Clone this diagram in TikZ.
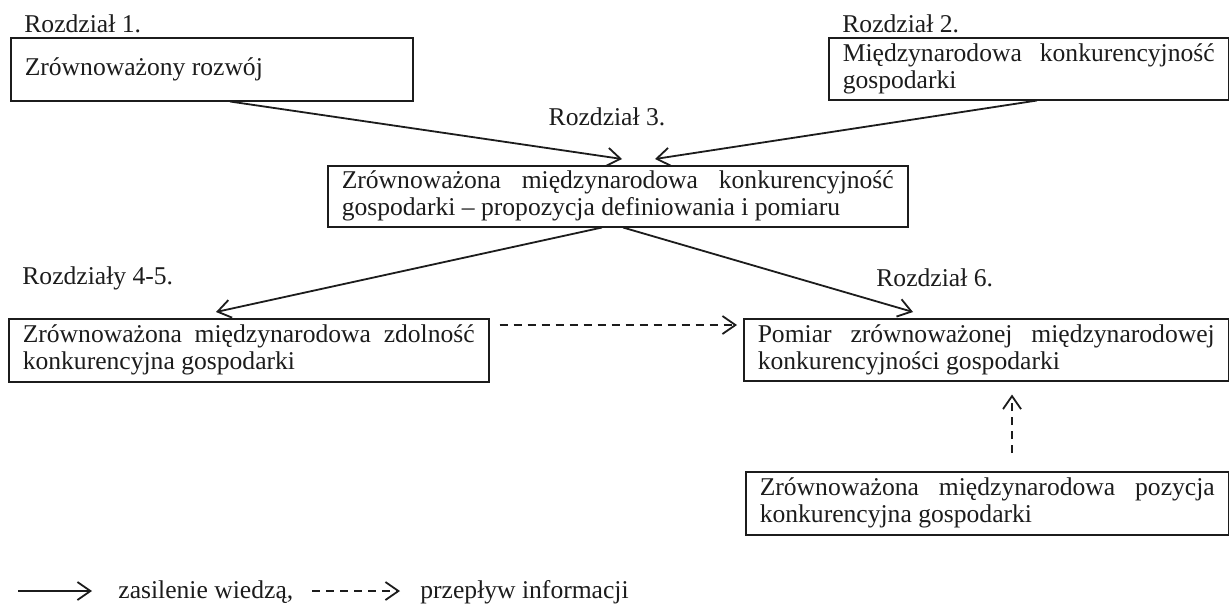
\documentclass[tikz,border=0pt]{standalone}
\usepackage{fontspec}
\setmainfont{Liberation Serif}
\usetikzlibrary{arrows.meta,calc}
\definecolor{ink}{HTML}{1C1C1C}
\begin{document}
\begin{tikzpicture}[x=0.5pt,y=-0.5pt,
  font=\fontsize{12.8}{13.5}\selectfont,
  box/.style={draw=ink,line width=0.75pt,rectangle,anchor=north west,inner xsep=7pt,inner ysep=2pt,align=justify,text=ink},
  lbl/.style={anchor=base west,inner sep=0pt,text=ink},
  kn/.style={draw=ink,line width=0.9pt,-{Straight Barb[length=6.5pt,width=9pt]}},
  inf/.style={kn,dash pattern=on 4pt off 3pt},
]
\useasboundingbox (0,0) rectangle (1229,606);
\fill[white] (0,0) rectangle (1229,606);

\node[box,text width=187pt,minimum height=31.5pt] (b1) at (10,37) {Zrównoważony rozwój};
\node[box,text width=186pt,minimum height=31pt] (b2) at (828,37) {Międzynarodowa konkurencyjność\linebreak gospodarki};
\node[box,text width=276pt,minimum height=30.5pt] (b3) at (327,165) {Zrównoważona międzynarodowa konkurencyjność\linebreak gospodarki -- propozycja definiowania i pomiaru};
\node[box,text width=226pt,minimum height=31.5pt] (b4) at (8,318) {Zrównoważona międzynarodowa zdolność\linebreak konkurencyjna gospodarki};
\node[box,text width=228.5pt,minimum height=31pt] (b6) at (743,318) {Pomiar zrównoważonej międzynarodowej\linebreak konkurencyjności gospodarki};
\node[box,text width=227.5pt,minimum height=31.5pt] (b7) at (745,471) {Zrównoważona międzynarodowa pozycja\linebreak konkurencyjna gospodarki};

\node[lbl] (l1) at (24,32) {Rozdział 1.};
\node[lbl] (l2) at (842,32) {Rozdział 2.};
\node[anchor=base,inner sep=0pt,text=ink] (l3) at (607,125) {Rozdział 3.};
\node[lbl] (l45) at (22,284) {Rozdziały 4-5.};
\node[lbl] (l6) at (876,286) {Rozdział 6.};

\draw[kn] ([xshift=110pt]b1.south west) -- ([xshift=147.5pt,yshift=3pt]b3.north west);
\draw[kn] ([xshift=104.5pt]b2.south west) -- ([xshift=164pt,yshift=3pt]b3.north west);
\draw[kn] ([xshift=137.5pt]b3.south west) -- ([xshift=104pt,yshift=3pt]b4.north west);
\draw[kn] ([xshift=148pt]b3.south west) -- ([xshift=85pt,yshift=3pt]b6.north west);
\draw[inf] ([xshift=5pt,yshift=-3.5pt]b4.north east) -- ([xshift=-3pt,yshift=-3.5pt]b6.north west);
\draw[inf] ([xshift=133.5pt,yshift=9pt]b7.north west) -- ([xshift=134.5pt,yshift=-6.5pt]b6.south west);

\coordinate (la) at (18,591);
\coordinate (lae) at (92,591);
\node[lbl] (lt1) at (118,598) {zasilenie wiedzą,};
\coordinate (lb) at (312,591);
\coordinate (lbe) at (400,591);
\node[lbl] (lt2) at (420,598) {przepływ informacji};
\draw[kn] (la) -- (lae);
\draw[inf] (lb) -- (lbe);
\end{tikzpicture}
\end{document}
